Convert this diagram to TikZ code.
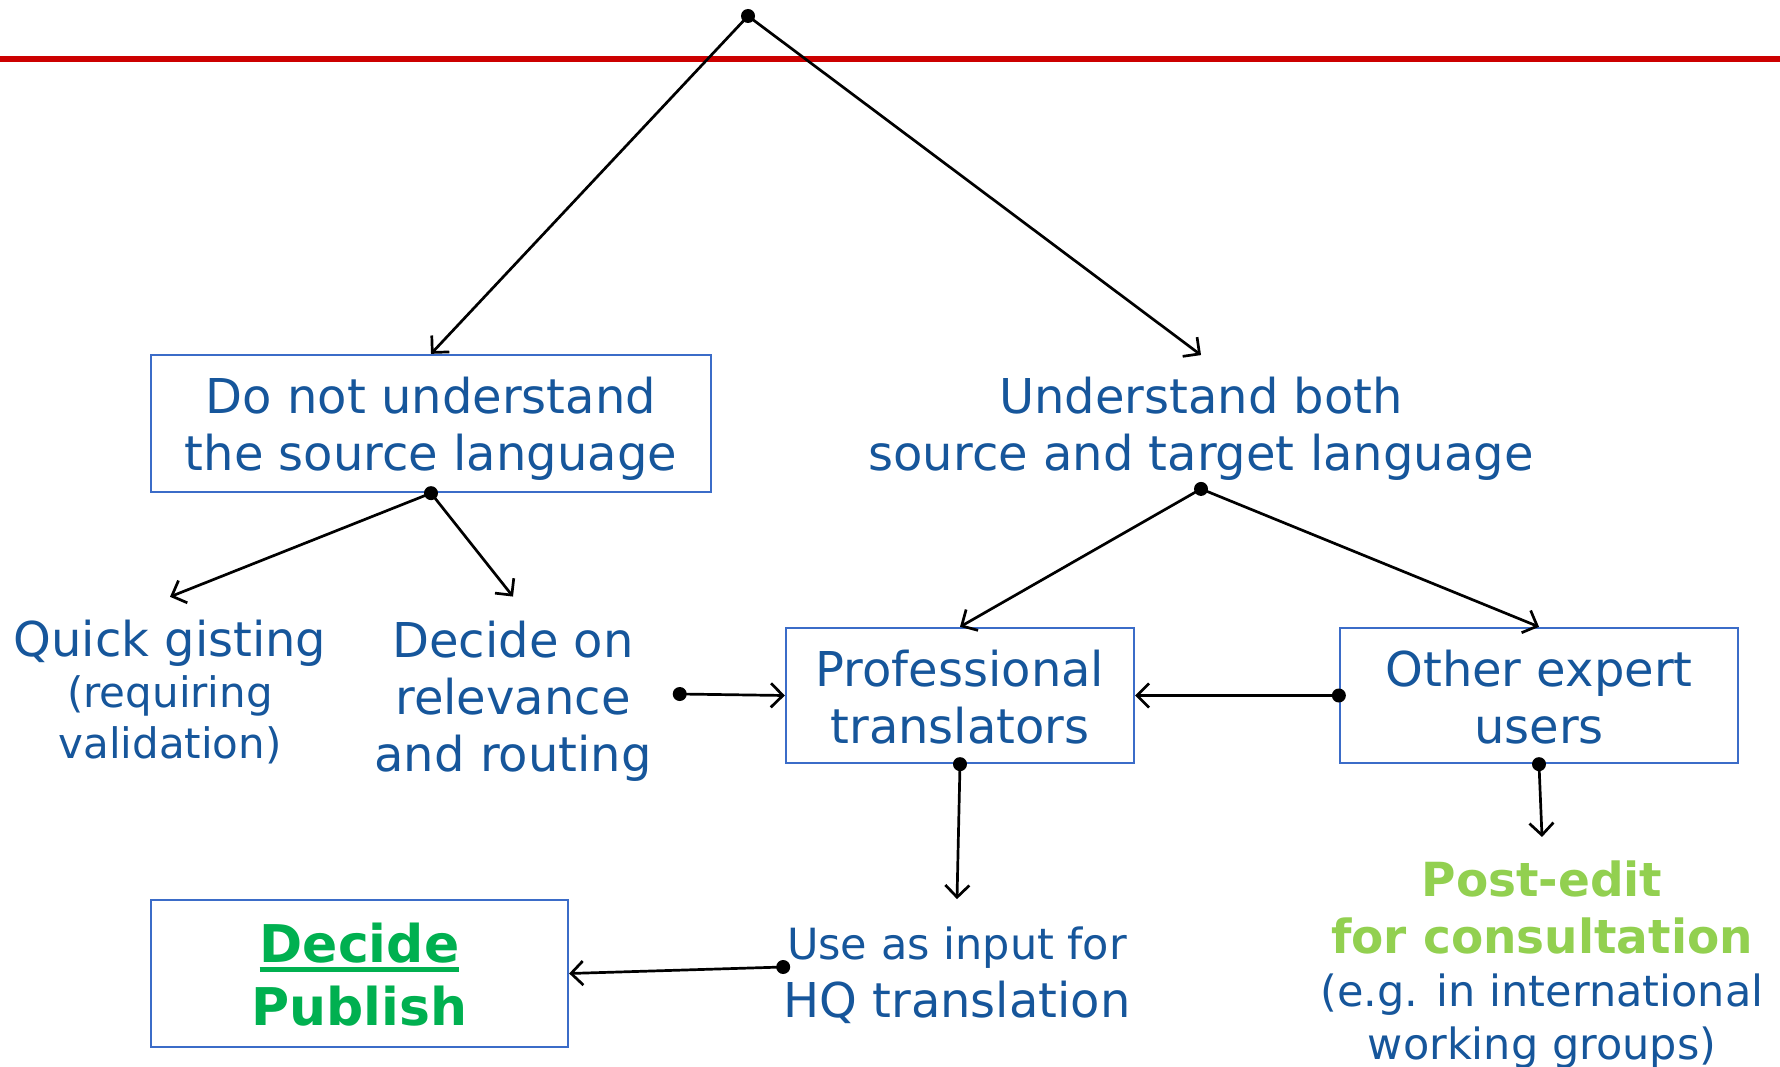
\documentclass[tikz,border=0pt]{standalone}
\usepackage{fontspec}
\setmainfont{DejaVu Sans}
\usetikzlibrary{arrows.meta,calc}
\definecolor{txtblue}{RGB}{22,86,155}
\definecolor{boxblue}{RGB}{59,108,200}
\definecolor{topred}{RGB}{204,0,0}
\definecolor{pubgreen}{RGB}{0,176,80}
\definecolor{pegreen}{RGB}{146,208,80}
% heavy underline for the bold heading
\newcommand\thickul[1]{\setbox0\hbox{#1}\rlap{\rule[-9pt]{\wd0}{4.5pt}}\box0}
\begin{document}
\begin{tikzpicture}[x=1pt,y=-1pt,
  every node/.style={text=txtblue, align=center, inner sep=0pt},
  box/.style={draw=boxblue, line width=2.3pt},
  big/.style={font=\fontsize{48}{57}\selectfont},
  link/.style={line width=2.7pt, -{Straight Barb[length=12pt,width=24pt]}}
]
\useasboundingbox (0,0) rectangle (1780,1067);
\fill[white] (0,0) rectangle (1780,1067);

% header rule
\draw[topred, line width=6.5pt] (0,59) -- (1780,59);

\coordinate (root) at (748,16);

% nodes
\node[box, big, minimum width=560pt, minimum height=137pt] (dnu) at (431,423.5)
  {\rule{0pt}{46pt}Do not understand\\the source language};
\node[big] (ub) at (1201,429) {Understand both\\source and target language};
\node[font=\fontsize{42}{51}\selectfont] (qg) at (170,692)
  {{\fontsize{48}{57}\selectfont Quick gisting}\\(requiring\\validation)};
\node[big] (dec) at (513,701) {Decide on\\relevance\\and routing};
\node[box, big, minimum width=348pt, minimum height=135pt] (pro) at (960,695.5)
  {\rule{0pt}{40pt}Professional\\translators};
\node[box, big, minimum width=398pt, minimum height=135pt] (oth) at (1539,695.5)
  {\rule{0pt}{40pt}Other expert\\users};
\node[font=\fontsize{48}{58.5}\selectfont] (use) at (957,975)
  {{\fontsize{43}{52}\selectfont Use as input for}\\HQ translation};
\node[box, text=pubgreen, font=\bfseries\fontsize{52}{63}\selectfont,
      minimum width=417pt, minimum height=147pt] (pub) at (359.5,973.5)
  {\rule{0pt}{42pt}\thickul{Decide}\\Publish};
\node[font=\fontsize{43}{53}\selectfont] (pe) at (1542,965)
  {{\color{pegreen}\bfseries\fontsize{47}{57}\selectfont Post-edit}\\[4pt]%
   {\color{pegreen}\bfseries\fontsize{47}{57}\selectfont for consultation}\\%
   (e.g. in international\\working groups)};

% connector end points
\coordinate (ubIn)   at ([yshift=22pt]ub.north);
\coordinate (ubDot)  at ([yshift=-8pt]ub.south);
\coordinate (qgIn)   at ([yshift=23pt]qg.north);
\coordinate (decIn)  at ([yshift=24pt]dec.north);
\coordinate (decDot) at ([xshift=28pt,yshift=7pt]dec.east);
\coordinate (useIn)  at ([yshift=27pt]use.north);
\coordinate (useDot) at ([yshift=8pt]use.west);
\coordinate (peIn)   at ([yshift=24pt]pe.north);

% connectors
\draw[link] (root) -- (dnu.north);
\draw[link] (root) -- (ubIn);
\draw[link] (dnu.south) -- (qgIn);
\draw[link] (dnu.south) -- (decIn);
\draw[link] (decDot) -- (pro.west);
\draw[link] (ubDot) -- (pro.north);
\draw[link] (ubDot) -- (oth.north);
\draw[link] (oth.west) -- (pro.east);
\draw[link] (pro.south) -- (useIn);
\draw[link] (oth.south) -- (peIn);
\draw[link] (useDot) -- (pub.east);

% start dots
\foreach \p in {root, dnu.south, decDot, ubDot, oth.west, pro.south, oth.south, useDot}
  \fill (\p) circle (7pt);
\end{tikzpicture}
\end{document}
